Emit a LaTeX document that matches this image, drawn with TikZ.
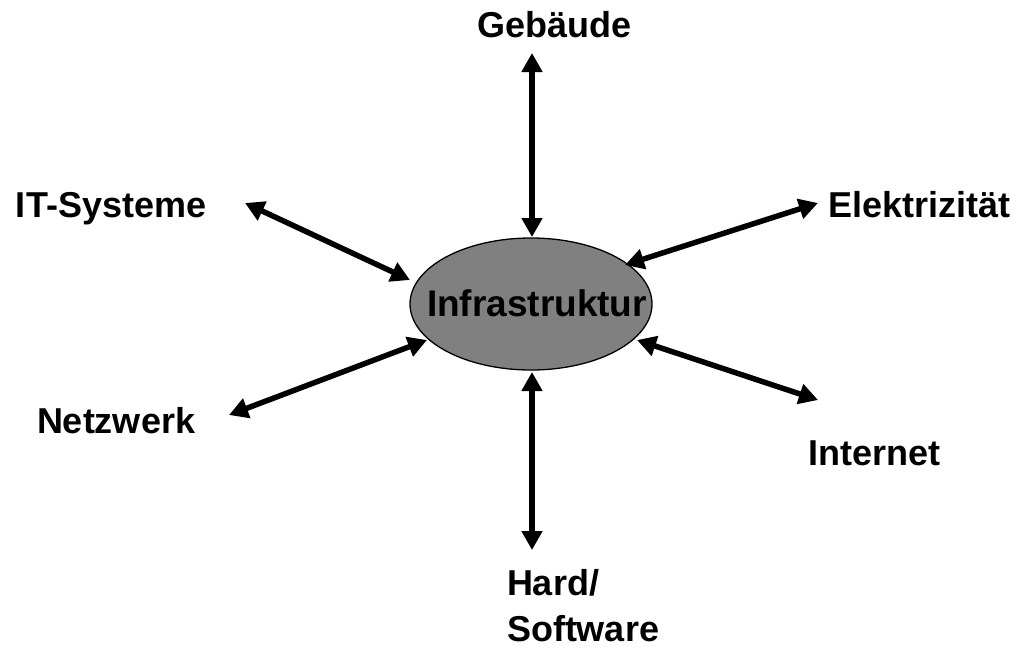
\documentclass[tikz,border=0pt]{standalone}
\usepackage{fontspec}
\setmainfont{Liberation Sans}
\usetikzlibrary{arrows.meta,shapes.geometric}
\begin{document}
\begin{tikzpicture}[x=1pt,y=-1pt,
  lbl/.style={inner sep=0pt,outer sep=0pt,anchor=base west,font=\fontsize{36}{47}\selectfont\bfseries},
  biarrow/.style={line width=5.5pt,{Triangle[length=19pt,width=20pt]}-{Triangle[length=19pt,width=20pt]}},
  hub/.style={ellipse,draw=black,line width=1.3pt,fill=black!50,minimum width=242pt,minimum height=132pt,inner sep=0pt}]
\useasboundingbox (0,0) rectangle (1017,649);
\node[hub] (infra) at (531,304) {};
\node[lbl,font=\fontsize{37}{44}\selectfont\bfseries] (infratext) at (427,316) {Infrastruktur};
\node[lbl] (geb) at (477,37) {Gebäude};
\node[lbl] (its) at (16,217) {IT-Systeme};
\node[lbl] (ele) at (828,217) {Elektrizität};
\node[lbl] (net) at (37,433) {Netzwerk};
\node[lbl] (inet) at (808,465) {Internet};
\node[lbl,font=\fontsize{36}{46}\selectfont\bfseries,align=left] (hw) at (507,641) {Hard/\\Software};
\coordinate (gA) at (532,53);   \coordinate (gB) at (532,237);
\coordinate (hA) at (532,372);  \coordinate (hB) at (532,550);
\coordinate (iA) at (245,203);  \coordinate (iB) at (410,280);
\coordinate (eA) at (818,203);  \coordinate (eB) at (625,265);
\coordinate (nA) at (229,415);  \coordinate (nB) at (427,340);
\coordinate (tA) at (637,340);  \coordinate (tB) at (818,400);
\draw[biarrow] (gA) -- (gB);
\draw[biarrow] (hA) -- (hB);
\draw[biarrow] (iA) -- (iB);
\draw[biarrow] (eA) -- (eB);
\draw[biarrow] (nA) -- (nB);
\draw[biarrow] (tA) -- (tB);
\end{tikzpicture}
\end{document}
